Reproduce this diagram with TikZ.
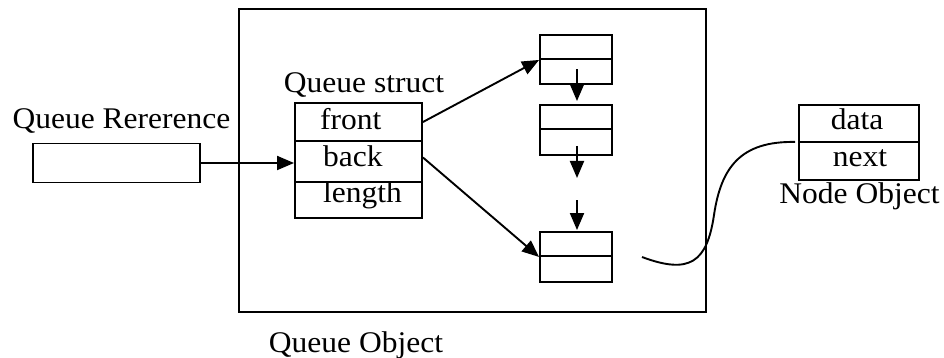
\documentclass[tikz,border=0pt]{standalone}
\usepackage{fontspec}
\setmainfont{Liberation Serif}[FakeStretch=1.05]
\usetikzlibrary{arrows.meta,calc}

\tikzset{
  box/.style={draw, line width=1.9pt, inner sep=0pt, minimum width=#1},
  lbl/.style={inner sep=0pt, anchor=base, font=\fontsize{30}{33}\selectfont},
  lblw/.style={lbl, anchor=base west},
  ptr/.style={line width=1.9pt, -{Triangle[length=17pt,width=14pt]}},
  link/.style={line width=1.9pt},
}

\begin{document}
\begin{tikzpicture}[x=1pt, y=-1pt]
  \useasboundingbox (0,0) rectangle (944,358);

  % queue object container
  \node[box=467, minimum height=303] (qobj) at (472.5,160.5) {};
  \node[lbl] (qobjlbl) at (356,352) {Queue Object};

  % reference variable
  \node[box=167, minimum height=39] (qref) at (116.5,163) {};
  \node[lbl] (qreflbl) at (121.5,129) {Queue Rererence};

  % the struct with its three fields
  \node[lbl] (structlbl) at (364,93) {Queue struct};
  \node[box=127, minimum height=38] (front)  at (358.5,122)   {};
  \node[box=127, minimum height=41] (back)   at (358.5,161.5) {};
  \node[box=127, minimum height=36] (length) at (358.5,200)   {};
  \node[lblw] (frontlbl)  at (320,130) {front};
  \node[lblw] (backlbl)   at (323,167) {back};
  \node[lblw] (lengthlbl) at (323,202) {length};

  % linked list cells
  \node[box=72, minimum height=24] (n1a) at (576,47)    {};
  \node[box=72, minimum height=25] (n1b) at (576,71.5)  {};
  \node[box=72, minimum height=24] (n2a) at (576,117)   {};
  \node[box=72, minimum height=26] (n2b) at (576,142)   {};
  \node[box=72, minimum height=24] (n3a) at (576,244)   {};
  \node[box=72, minimum height=26] (n3b) at (576,269)   {};

  % a single list node shown on its own
  \node[box=120, minimum height=37] (ndata) at (859,123.5) {};
  \node[box=120, minimum height=38] (nnext) at (859,161)   {};
  \node[lbl] (datalbl) at (857,130) {data};
  \node[lbl] (nextlbl) at (860,167) {next};
  \node[lbl] (nodelbl) at (859.5,203) {Node Object};

  % free ends of the elided chain and of the zoom line
  \coordinate (gapA) at (577,178);
  \coordinate (gapB) at (577,200);
  \coordinate (tail) at (642,257);

  % pointers
  \draw[ptr] (qref.east) -- (qref.east -| back.west);
  \draw[ptr] (front.east) -- (n1a.south west);
  \draw[ptr] ($(back.east)+(0,-4)$) -- (n3a.south west);
  \draw[ptr] ($(n1b.center)+(1,-2)$) -- ($(n2a.north)+(1,-3)$);
  \draw[ptr] ($(n2b.center)+(1,4)$) -- (gapA);
  \draw[ptr] (gapB) -- ($(n3a.north)+(1,-1)$);

  % curve linking the last cell to the enlarged node
  \draw[link] (tail) .. controls (690,275) and (707,262) .. (714,215)
                     .. controls (721,168) and (740,141) .. ($(ndata.south west)+(-3,-1)$);
\end{tikzpicture}
\end{document}
